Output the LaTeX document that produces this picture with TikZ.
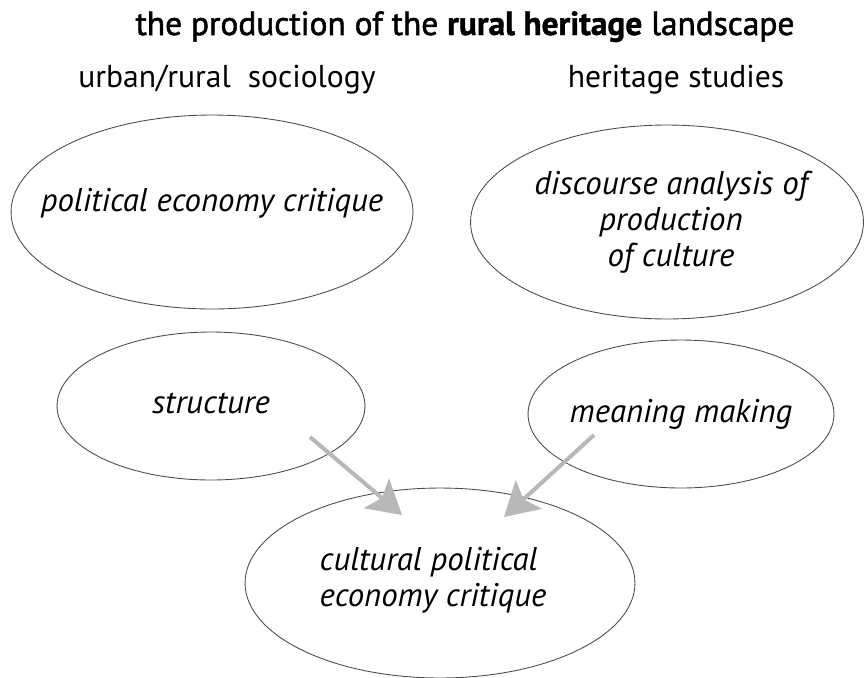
\documentclass[tikz,border=0pt]{standalone}
\usepackage{fontspec}
\setmainfont{PT Sans}
\newfontfamily\titlefont[FakeBold=1.6]{PT Sans}
\newfontfamily\titleheavy[FakeBold=1.2]{PT Sans Bold}
\usetikzlibrary{shapes.geometric,arrows.meta,positioning,calc}

\begin{document}
\begin{tikzpicture}[
  x=0.02cm, y=-0.02cm,
  headline/.style={font=\fontsize{19}{22}\titlefont, anchor=base},
  discipline/.style={font=\fontsize{18}{22}\selectfont, anchor=base},
  idea/.style={ellipse, draw=black!70, line width=0.5pt, inner sep=0pt},
  ideatext/.style={align=center, inner sep=0pt, font=\fontsize{18.7}{20.6}\selectfont\itshape},
  flow/.style={draw=black!28, line width=2.3pt,
               -{Stealth[length=19pt, width=22pt, inset=4pt]}},
]
\useasboundingbox (0,0) rectangle (864,677);

% headings
\node[headline] (title) at (465,35) {the production of the {\titleheavy rural heritage} landscape};
\node[discipline] (socio) at (227,87) {urban/rural\ \ sociology};
\node[discipline] (herit) at (676,87) {heritage studies};

% fields and concepts
\node[idea, minimum width=8.04cm, minimum height=3.88cm,
      label={[ideatext, yshift=0.18cm]center:political economy critique}] (pol) at (212,212) {};
\node[idea, minimum width=7.86cm, minimum height=3.88cm,
      label={[ideatext, xshift=0.08cm]center:discourse analysis of\\production\\of culture}] (disc) at (667,222) {};
\node[idea, minimum width=6.16cm, minimum height=2.96cm,
      label={[ideatext, yshift=0.06cm]center:structure}] (struct) at (211,406) {};
\node[idea, minimum width=6.12cm, minimum height=2.96cm,
      label={[ideatext]center:meaning making}] (mean) at (681,414) {};
\node[idea, minimum width=7.8cm, minimum height=3.8cm,
      label={[ideatext, align=left, xshift=-0.14cm, yshift=0.06cm]center:cultural political\\economy critique}] (cpe) at (440,583) {};

% arrows into the combined critique
\coordinate (structout) at ([shift={(99,31)}]struct.center);
\coordinate (meanout) at ([shift={(-87,21)}]mean.center);
\coordinate (cpeleft) at ([shift={(-38,-68)}]cpe.center);
\coordinate (cperight) at ([shift={(64,-66)}]cpe.center);
\draw[flow] (structout) -- (cpeleft);
\draw[flow] (meanout) -- (cperight);

\end{tikzpicture}
\end{document}
